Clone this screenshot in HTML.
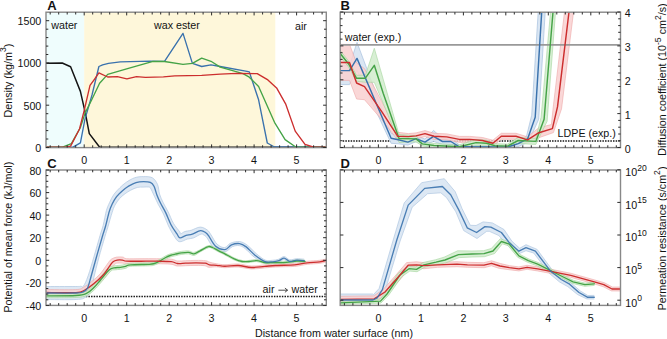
<!DOCTYPE html>
<html><head><meta charset="utf-8"><style>
html,body{margin:0;padding:0;background:#fff;overflow:hidden;}
svg{display:block;font-family:"Liberation Sans", sans-serif;}
</style></head><body>
<svg width="667" height="339" viewBox="0 0 667 339">
<defs>
<clipPath id="clipA"><rect x="46.0" y="12.2" width="280.3" height="135.4"/></clipPath>
<clipPath id="clipB"><rect x="340.2" y="12.2" width="280.3" height="135.4"/></clipPath>
<clipPath id="clipC"><rect x="46.0" y="170.0" width="280.3" height="135.4"/></clipPath>
<clipPath id="clipD"><rect x="340.2" y="170.0" width="280.3" height="135.4"/></clipPath>
</defs>
<rect x="46.0" y="12.2" width="38.2" height="135.4" fill="#effdfd"/>
<rect x="84.2" y="12.2" width="191.1" height="135.4" fill="#fef7da"/>
<g clip-path="url(#clipA)">
<polyline points="46.0,63.2 62.2,63.0 70.6,66.8 80.4,91.4 85.5,113.8 89.3,133.6 99.5,147.0 326.0,147.2" fill="none" stroke="#151515" stroke-width="1.50" stroke-linejoin="round" stroke-linecap="round" />
<polyline points="46.0,147.2 73.0,147.2 80.4,142.9 84.9,119.4 92.0,95.0 98.9,66.5 102.6,64.8 108.5,63.3 120.3,61.8 150.0,61.2 164.5,61.3 183.0,33.4 192.4,63.4 201.7,66.5 211.0,64.8 220.2,66.5 247.0,71.3 249.3,71.9 258.6,99.8 267.3,143.0 274.5,147.0 326.0,147.2" fill="none" stroke="#3a72ad" stroke-width="1.35" stroke-linejoin="round" stroke-linecap="round" />
<polyline points="46.0,147.2 62.5,147.2 71.4,143.7 80.4,127.5 85.2,112.9 91.6,100.0 99.6,83.2 107.7,74.4 127.5,68.6 153.0,61.3 164.5,61.5 183.0,64.4 192.4,63.4 201.7,58.2 211.0,61.3 220.2,67.1 232.6,70.6 243.0,73.7 249.3,77.2 258.6,86.5 274.5,122.3 285.1,139.6 295.7,147.0 326.0,147.2" fill="none" stroke="#45a347" stroke-width="1.35" stroke-linejoin="round" stroke-linecap="round" />
<polyline points="46.0,147.2 65.7,147.2 70.6,146.1 79.5,129.0 84.4,109.6 90.0,85.4 93.7,80.3 98.9,72.9 107.7,77.0 117.3,76.6 126.9,78.8 136.5,76.6 145.4,77.3 163.4,76.8 174.8,75.9 201.7,75.4 220.2,74.1 236.8,73.3 257.2,73.6 267.9,79.9 276.6,87.9 285.6,103.8 295.2,131.1 305.0,144.4 313.0,147.0 326.0,147.2" fill="none" stroke="#cc2e2e" stroke-width="1.35" stroke-linejoin="round" stroke-linecap="round" />
</g>
<g clip-path="url(#clipB)">
<line x1="342.7" y1="141.1" x2="620.5" y2="141.1" stroke="#161616" stroke-width="1.5" stroke-dasharray="1.5,1.15"/>
<polygon points="340.2,65.6 349.5,65.6 357.0,42.4 391.1,133.3 398.4,135.8 407.9,139.1 416.0,135.7 425.0,139.1 433.5,130.4 442.5,138.5 450.9,138.5 459.3,144.8 507.6,145.0 518.2,140.6 526.6,135.9 531.7,115.2 538.2,12.0 542.5,-20.0 549.5,-20.0 545.2,12.0 538.7,119.2 528.6,141.9 518.2,146.6 507.6,148.0 459.3,147.8 450.9,144.5 442.5,144.5 433.5,141.4 425.0,145.1 416.0,141.7 407.9,145.1 398.4,143.8 391.1,143.3 357.0,70.4 349.5,84.6 340.2,84.6" fill="#dae6f3"/>
<polyline points="340.2,65.6 349.5,65.6 357.0,42.4 391.1,133.3 398.4,135.8 407.9,139.1 416.0,135.7 425.0,139.1 433.5,130.4 442.5,138.5 450.9,138.5 459.3,144.8 507.6,145.0 518.2,140.6 526.6,135.9 531.7,115.2 538.2,12.0 542.5,-20.0" fill="none" stroke="#a8c2de" stroke-width="0.7"/>
<polyline points="549.5,-20.0 545.2,12.0 538.7,119.2 528.6,141.9 518.2,146.6 507.6,148.0 459.3,147.8 450.9,144.5 442.5,144.5 433.5,141.4 425.0,145.1 416.0,141.7 407.9,145.1 398.4,143.8 391.1,143.3 357.0,70.4 349.5,84.6 340.2,84.6" fill="none" stroke="#a8c2de" stroke-width="0.7"/>
<g opacity="0.85">
<polygon points="340.2,44.4 349.5,44.4 356.6,63.0 364.5,68.7 381.9,101.8 397.8,132.3 408.4,133.6 416.0,132.9 425.0,130.6 434.0,133.3 446.7,133.9 459.3,136.4 469.8,136.4 482.4,137.5 492.9,140.2 501.3,133.3 516.0,133.3 527.6,136.9 538.9,127.7 551.4,124.6 553.5,104.9 564.5,12.0 568.5,-20.0 577.5,-20.0 573.5,12.0 561.5,108.9 553.4,132.6 538.9,137.7 527.6,142.9 516.0,139.3 501.3,139.3 492.9,146.2 482.4,143.5 469.8,142.4 459.3,142.4 446.7,139.9 434.0,139.3 425.0,136.6 416.0,138.9 408.4,139.6 397.8,140.3 381.9,119.8 364.5,99.7 356.6,99.0 349.5,80.4 340.2,80.4" fill="#f9d2d2"/>
<polyline points="340.2,44.4 349.5,44.4 356.6,63.0 364.5,68.7 381.9,101.8 397.8,132.3 408.4,133.6 416.0,132.9 425.0,130.6 434.0,133.3 446.7,133.9 459.3,136.4 469.8,136.4 482.4,137.5 492.9,140.2 501.3,133.3 516.0,133.3 527.6,136.9 538.9,127.7 551.4,124.6 553.5,104.9 564.5,12.0 568.5,-20.0" fill="none" stroke="#eea4a4" stroke-width="0.7"/>
<polyline points="577.5,-20.0 573.5,12.0 561.5,108.9 553.4,132.6 538.9,137.7 527.6,142.9 516.0,139.3 501.3,139.3 492.9,146.2 482.4,143.5 469.8,142.4 459.3,142.4 446.7,139.9 434.0,139.3 425.0,136.6 416.0,138.9 408.4,139.6 397.8,140.3 381.9,119.8 364.5,99.7 356.6,99.0 349.5,80.4 340.2,80.4" fill="none" stroke="#eea4a4" stroke-width="0.7"/>
</g>
<g opacity="0.85">
<polygon points="340.2,50.5 348.6,61.0 356.6,75.3 365.4,75.2 374.3,48.3 383.2,79.2 399.0,134.5 416.0,135.9 422.3,141.9 434.1,143.5 459.3,144.8 476.1,139.6 486.6,140.2 495.0,143.7 507.6,144.1 518.2,137.5 535.8,138.4 541.1,117.3 550.5,12.0 554.5,-20.0 559.5,-20.0 555.5,12.0 547.1,121.3 535.8,144.4 518.2,143.5 507.6,148.1 495.0,147.7 486.6,146.2 476.1,145.6 459.3,147.8 434.1,147.5 422.3,145.9 416.0,141.9 399.0,142.5 383.2,103.2 374.3,82.3 365.4,82.2 356.6,81.3 348.6,67.0 340.2,56.5" fill="#d2edcd"/>
<polyline points="340.2,50.5 348.6,61.0 356.6,75.3 365.4,75.2 374.3,48.3 383.2,79.2 399.0,134.5 416.0,135.9 422.3,141.9 434.1,143.5 459.3,144.8 476.1,139.6 486.6,140.2 495.0,143.7 507.6,144.1 518.2,137.5 535.8,138.4 541.1,117.3 550.5,12.0 554.5,-20.0" fill="none" stroke="#a0d49a" stroke-width="0.7"/>
<polyline points="559.5,-20.0 555.5,12.0 547.1,121.3 535.8,144.4 518.2,143.5 507.6,148.1 495.0,147.7 486.6,146.2 476.1,145.6 459.3,147.8 434.1,147.5 422.3,145.9 416.0,141.9 399.0,142.5 383.2,103.2 374.3,82.3 365.4,82.2 356.6,81.3 348.6,67.0 340.2,56.5" fill="none" stroke="#a0d49a" stroke-width="0.7"/>
</g>
<line x1="340.2" y1="44.8" x2="620.5" y2="44.8" stroke="#999999" stroke-width="1.8"/>
<polyline points="340.2,70.6 349.5,70.6 357.0,58.4 391.1,138.3 398.4,139.8 407.9,142.1 416.0,138.7 425.0,142.1 433.5,136.4 442.5,141.5 450.9,141.5 459.3,146.8 507.6,147.0 518.2,143.6 527.6,138.9 535.2,117.2 541.7,12.0 546.0,-20.0" fill="none" stroke="#3a72ad" stroke-width="1.45" stroke-linejoin="round" stroke-linecap="round" />
<polyline points="340.2,53.5 348.6,64.0 356.6,78.3 365.4,78.2 374.3,65.3 383.2,93.2 399.0,138.5 416.0,138.9 422.3,143.9 434.1,145.5 459.3,146.8 476.1,142.6 486.6,143.2 495.0,145.7 507.6,146.1 518.2,140.5 535.8,141.4 544.1,119.3 553.0,12.0 557.0,-20.0" fill="none" stroke="#45a347" stroke-width="1.45" stroke-linejoin="round" stroke-linecap="round" />
<polyline points="340.2,62.4 349.5,62.4 356.6,83.0 364.5,86.7 381.9,111.8 397.8,136.3 408.4,136.6 416.0,135.9 425.0,133.6 434.0,136.3 446.7,136.9 459.3,139.4 469.8,139.4 482.4,140.5 492.9,143.2 501.3,136.3 516.0,136.3 527.6,139.9 538.9,132.7 552.4,128.6 557.5,106.9 569.0,12.0 573.0,-20.0" fill="none" stroke="#cc2e2e" stroke-width="1.45" stroke-linejoin="round" stroke-linecap="round" />
</g>
<g clip-path="url(#clipC)">
<line x1="46" y1="296.4" x2="326.3" y2="296.4" stroke="#161616" stroke-width="1.5" stroke-dasharray="1.5,1.15"/>
<g opacity="0.9">
<path d="M44.0,286.5 C49.3,286.5 69.7,286.5 75.8,286.5 C81.9,286.5 79.5,286.3 80.8,286.3 C82.1,286.2 82.3,287.8 83.5,286.1 C84.7,284.4 86.4,280.8 88.1,275.9 C89.9,270.9 92.0,263.3 94.0,256.5 C96.0,249.8 98.6,240.5 100.1,235.3 C101.6,230.1 102.1,229.5 103.2,225.3 C104.2,221.2 105.4,214.3 106.4,210.5 C107.5,206.8 108.3,205.4 109.5,202.7 C110.7,200.0 112.1,197.0 113.8,194.5 C115.6,192.0 117.8,189.7 119.9,187.7 C121.9,185.7 123.6,184.1 126.1,182.4 C128.5,180.8 131.6,178.8 134.5,177.8 C137.4,176.8 140.6,176.6 143.5,176.6 C146.5,176.6 150.0,176.5 152.4,177.8 C154.7,179.2 156.3,181.7 157.5,184.4 C158.8,187.2 158.7,191.2 159.6,194.2 C160.5,197.1 161.5,199.2 162.9,202.1 C164.3,205.1 166.4,208.2 168.1,211.8 C169.9,215.3 171.5,220.1 173.5,223.4 C175.4,226.7 178.5,230.0 179.7,231.7 C180.9,233.5 179.7,233.9 180.6,233.9 C181.5,233.8 183.2,232.1 185.0,231.5 C186.7,230.9 188.5,231.0 191.1,230.3 C193.6,229.6 197.5,227.1 200.2,227.1 C203.0,227.1 205.7,228.9 207.5,230.2 C209.3,231.5 209.4,232.5 211.0,234.8 C212.6,237.2 214.9,242.2 217.2,244.3 C219.5,246.4 222.5,247.8 224.7,247.6 C227.0,247.4 228.2,244.0 230.7,243.1 C233.2,242.1 237.0,241.2 239.8,241.6 C242.5,242.0 244.6,243.2 247.4,245.3 C250.2,247.4 253.7,251.5 256.6,253.9 C259.6,256.4 262.6,259.0 265.2,260.1 C267.9,261.2 270.3,260.4 272.5,260.3 C274.7,260.2 276.5,259.9 278.4,259.3 C280.4,258.7 282.3,256.5 284.2,256.6 C286.1,256.7 287.6,259.5 289.6,259.8 C291.7,260.2 294.2,258.8 296.6,258.7 C299.1,258.6 302.9,259.1 304.2,259.2 L304.0,262.2 C302.8,262.1 299.2,261.6 296.8,261.7 C294.3,261.8 291.3,263.1 289.2,262.8 C287.0,262.4 285.6,259.7 284.0,259.6 C282.4,259.5 281.2,261.5 279.4,262.1 C277.5,262.7 275.2,263.2 272.7,263.3 C270.2,263.4 267.3,263.9 264.2,262.9 C261.1,261.9 257.4,259.5 254.2,257.1 C251.0,254.7 247.5,250.4 245.0,248.5 C242.5,246.6 241.4,245.9 239.2,245.6 C237.1,245.3 234.6,245.7 232.3,246.7 C229.9,247.8 228.1,251.4 225.1,251.6 C222.0,251.8 217.0,250.4 214.0,248.1 C211.0,245.8 208.6,239.9 207.0,237.8 C205.3,235.6 205.1,235.8 204.1,235.2 C203.1,234.6 202.7,233.6 201.0,234.1 C199.2,234.5 195.8,237.1 193.5,237.9 C191.2,238.7 189.6,238.5 187.2,239.1 C184.9,239.8 181.4,242.3 179.2,241.7 C177.0,241.2 175.7,238.3 173.9,235.7 C172.1,233.0 170.3,229.6 168.5,226.0 C166.8,222.4 165.2,217.6 163.5,214.0 C161.8,210.4 159.8,207.4 158.3,204.5 C156.8,201.5 155.7,198.9 154.4,196.2 C153.1,193.5 151.5,189.7 150.5,188.2 C149.4,186.6 149.4,187.1 148.2,187.0 C147.1,186.8 145.5,187.0 143.7,187.1 C141.9,187.2 139.6,186.9 137.5,187.4 C135.3,187.9 132.8,189.1 130.7,190.2 C128.7,191.2 127.0,192.3 125.1,193.7 C123.2,195.1 121.1,196.8 119.4,198.7 C117.7,200.7 116.1,203.1 114.9,205.3 C113.7,207.6 113.3,208.7 112.2,212.3 C111.0,215.8 109.2,222.6 108.0,226.7 C106.8,230.7 106.4,231.5 104.9,236.7 C103.4,241.9 100.6,251.1 98.8,257.9 C97.0,264.7 95.1,272.1 93.9,277.5 C92.7,282.9 92.9,287.0 91.5,290.3 C90.1,293.6 88.0,295.8 85.4,297.3 C82.9,298.9 83.1,299.1 76.2,299.5 C69.3,299.9 49.4,299.5 44.0,299.5 Z" fill="#dae6f3"/>
<path d="M44.0,286.5 C49.3,286.5 69.7,286.5 75.8,286.5 C81.9,286.5 79.5,286.3 80.8,286.3 C82.1,286.2 82.3,287.8 83.5,286.1 C84.7,284.4 86.4,280.8 88.1,275.9 C89.9,270.9 92.0,263.3 94.0,256.5 C96.0,249.8 98.6,240.5 100.1,235.3 C101.6,230.1 102.1,229.5 103.2,225.3 C104.2,221.2 105.4,214.3 106.4,210.5 C107.5,206.8 108.3,205.4 109.5,202.7 C110.7,200.0 112.1,197.0 113.8,194.5 C115.6,192.0 117.8,189.7 119.9,187.7 C121.9,185.7 123.6,184.1 126.1,182.4 C128.5,180.8 131.6,178.8 134.5,177.8 C137.4,176.8 140.6,176.6 143.5,176.6 C146.5,176.6 150.0,176.5 152.4,177.8 C154.7,179.2 156.3,181.7 157.5,184.4 C158.8,187.2 158.7,191.2 159.6,194.2 C160.5,197.1 161.5,199.2 162.9,202.1 C164.3,205.1 166.4,208.2 168.1,211.8 C169.9,215.3 171.5,220.1 173.5,223.4 C175.4,226.7 178.5,230.0 179.7,231.7 C180.9,233.5 179.7,233.9 180.6,233.9 C181.5,233.8 183.2,232.1 185.0,231.5 C186.7,230.9 188.5,231.0 191.1,230.3 C193.6,229.6 197.5,227.1 200.2,227.1 C203.0,227.1 205.7,228.9 207.5,230.2 C209.3,231.5 209.4,232.5 211.0,234.8 C212.6,237.2 214.9,242.2 217.2,244.3 C219.5,246.4 222.5,247.8 224.7,247.6 C227.0,247.4 228.2,244.0 230.7,243.1 C233.2,242.1 237.0,241.2 239.8,241.6 C242.5,242.0 244.6,243.2 247.4,245.3 C250.2,247.4 253.7,251.5 256.6,253.9 C259.6,256.4 262.6,259.0 265.2,260.1 C267.9,261.2 270.3,260.4 272.5,260.3 C274.7,260.2 276.5,259.9 278.4,259.3 C280.4,258.7 282.3,256.5 284.2,256.6 C286.1,256.7 287.6,259.5 289.6,259.8 C291.7,260.2 294.2,258.8 296.6,258.7 C299.1,258.6 302.9,259.1 304.2,259.2" fill="none" stroke="#a8c2de" stroke-width="0.7"/>
<path d="M304.0,262.2 C302.8,262.1 299.2,261.6 296.8,261.7 C294.3,261.8 291.3,263.1 289.2,262.8 C287.0,262.4 285.6,259.7 284.0,259.6 C282.4,259.5 281.2,261.5 279.4,262.1 C277.5,262.7 275.2,263.2 272.7,263.3 C270.2,263.4 267.3,263.9 264.2,262.9 C261.1,261.9 257.4,259.5 254.2,257.1 C251.0,254.7 247.5,250.4 245.0,248.5 C242.5,246.6 241.4,245.9 239.2,245.6 C237.1,245.3 234.6,245.7 232.3,246.7 C229.9,247.8 228.1,251.4 225.1,251.6 C222.0,251.8 217.0,250.4 214.0,248.1 C211.0,245.8 208.6,239.9 207.0,237.8 C205.3,235.6 205.1,235.8 204.1,235.2 C203.1,234.6 202.7,233.6 201.0,234.1 C199.2,234.5 195.8,237.1 193.5,237.9 C191.2,238.7 189.6,238.5 187.2,239.1 C184.9,239.8 181.4,242.3 179.2,241.7 C177.0,241.2 175.7,238.3 173.9,235.7 C172.1,233.0 170.3,229.6 168.5,226.0 C166.8,222.4 165.2,217.6 163.5,214.0 C161.8,210.4 159.8,207.4 158.3,204.5 C156.8,201.5 155.7,198.9 154.4,196.2 C153.1,193.5 151.5,189.7 150.5,188.2 C149.4,186.6 149.4,187.1 148.2,187.0 C147.1,186.8 145.5,187.0 143.7,187.1 C141.9,187.2 139.6,186.9 137.5,187.4 C135.3,187.9 132.8,189.1 130.7,190.2 C128.7,191.2 127.0,192.3 125.1,193.7 C123.2,195.1 121.1,196.8 119.4,198.7 C117.7,200.7 116.1,203.1 114.9,205.3 C113.7,207.6 113.3,208.7 112.2,212.3 C111.0,215.8 109.2,222.6 108.0,226.7 C106.8,230.7 106.4,231.5 104.9,236.7 C103.4,241.9 100.6,251.1 98.8,257.9 C97.0,264.7 95.1,272.1 93.9,277.5 C92.7,282.9 92.9,287.0 91.5,290.3 C90.1,293.6 88.0,295.8 85.4,297.3 C82.9,298.9 83.1,299.1 76.2,299.5 C69.3,299.9 49.4,299.5 44.0,299.5" fill="none" stroke="#a8c2de" stroke-width="0.7"/>
</g>
<g opacity="0.85">
<path d="M44.0,289.5 C49.3,289.5 69.2,290.0 75.8,289.6 C82.4,289.2 80.8,288.7 83.5,287.3 C86.1,286.0 89.0,283.7 91.8,281.5 C94.6,279.2 97.7,276.7 100.3,273.8 C102.8,270.9 105.4,266.7 107.2,264.3 C109.0,261.9 109.7,260.5 111.2,259.3 C112.8,258.2 114.8,257.5 116.7,257.1 C118.6,256.8 121.1,256.9 122.8,257.1 C124.4,257.4 123.6,258.4 126.6,258.7 C129.7,259.0 136.0,258.7 141.0,258.7 C146.0,258.7 151.4,258.6 156.4,258.7 C161.5,258.8 167.9,258.8 171.5,259.2 C175.0,259.6 175.3,260.8 177.7,261.0 C180.0,261.3 182.5,260.8 185.5,260.7 C188.6,260.6 192.7,260.4 196.0,260.4 C199.3,260.4 203.2,260.4 205.6,260.7 C207.9,261.0 208.0,261.8 209.9,262.3 C211.7,262.9 214.2,263.4 216.7,263.8 C219.2,264.2 221.3,264.7 224.9,264.7 C228.5,264.7 233.8,263.8 238.3,264.0 C242.7,264.2 247.2,265.9 251.6,266.0 C255.9,266.2 260.6,265.2 264.6,264.9 C268.6,264.6 270.6,264.3 275.6,264.0 C280.6,263.8 289.2,263.9 294.5,263.4 C299.7,263.0 302.8,261.8 307.0,261.3 C311.2,260.8 316.2,260.8 319.6,260.3 C323.0,259.9 326.3,258.8 327.7,258.5 L328.3,261.5 C326.9,261.8 323.5,262.8 320.0,263.3 C316.5,263.8 311.6,263.8 307.4,264.3 C303.2,264.8 300.0,265.9 294.7,266.4 C289.5,266.8 280.8,266.7 275.8,267.0 C270.8,267.2 268.9,267.6 264.8,267.9 C260.8,268.2 255.9,269.1 251.4,269.0 C247.0,268.8 242.6,267.2 238.1,267.0 C233.7,266.8 228.5,267.7 224.9,267.7 C221.3,267.7 219.1,266.9 216.5,266.8 C213.8,266.7 210.9,267.4 208.9,267.3 C207.0,267.1 207.0,266.0 204.8,265.7 C202.7,265.4 199.2,265.4 196.0,265.4 C192.8,265.4 188.8,265.6 185.7,265.7 C182.5,265.8 179.6,266.2 177.1,266.0 C174.7,265.7 174.4,264.6 170.9,264.2 C167.5,263.8 161.3,263.8 156.4,263.7 C151.4,263.6 146.0,263.7 141.0,263.7 C136.0,263.7 129.5,263.8 126.4,263.7 C123.2,263.6 123.5,263.2 122.0,263.1 C120.6,263.0 118.9,262.9 117.7,263.1 C116.5,263.2 115.9,263.2 115.0,264.1 C114.0,264.9 113.7,265.6 112.0,267.9 C110.3,270.2 107.5,274.8 104.7,277.8 C102.0,280.8 98.7,283.7 95.6,286.1 C92.5,288.6 89.4,291.1 86.1,292.7 C82.9,294.3 83.2,295.1 76.2,295.6 C69.2,296.1 49.4,295.5 44.0,295.5 Z" fill="#f9d2d2"/>
<path d="M44.0,289.5 C49.3,289.5 69.2,290.0 75.8,289.6 C82.4,289.2 80.8,288.7 83.5,287.3 C86.1,286.0 89.0,283.7 91.8,281.5 C94.6,279.2 97.7,276.7 100.3,273.8 C102.8,270.9 105.4,266.7 107.2,264.3 C109.0,261.9 109.7,260.5 111.2,259.3 C112.8,258.2 114.8,257.5 116.7,257.1 C118.6,256.8 121.1,256.9 122.8,257.1 C124.4,257.4 123.6,258.4 126.6,258.7 C129.7,259.0 136.0,258.7 141.0,258.7 C146.0,258.7 151.4,258.6 156.4,258.7 C161.5,258.8 167.9,258.8 171.5,259.2 C175.0,259.6 175.3,260.8 177.7,261.0 C180.0,261.3 182.5,260.8 185.5,260.7 C188.6,260.6 192.7,260.4 196.0,260.4 C199.3,260.4 203.2,260.4 205.6,260.7 C207.9,261.0 208.0,261.8 209.9,262.3 C211.7,262.9 214.2,263.4 216.7,263.8 C219.2,264.2 221.3,264.7 224.9,264.7 C228.5,264.7 233.8,263.8 238.3,264.0 C242.7,264.2 247.2,265.9 251.6,266.0 C255.9,266.2 260.6,265.2 264.6,264.9 C268.6,264.6 270.6,264.3 275.6,264.0 C280.6,263.8 289.2,263.9 294.5,263.4 C299.7,263.0 302.8,261.8 307.0,261.3 C311.2,260.8 316.2,260.8 319.6,260.3 C323.0,259.9 326.3,258.8 327.7,258.5" fill="none" stroke="#eea4a4" stroke-width="0.7"/>
<path d="M328.3,261.5 C326.9,261.8 323.5,262.8 320.0,263.3 C316.5,263.8 311.6,263.8 307.4,264.3 C303.2,264.8 300.0,265.9 294.7,266.4 C289.5,266.8 280.8,266.7 275.8,267.0 C270.8,267.2 268.9,267.6 264.8,267.9 C260.8,268.2 255.9,269.1 251.4,269.0 C247.0,268.8 242.6,267.2 238.1,267.0 C233.7,266.8 228.5,267.7 224.9,267.7 C221.3,267.7 219.1,266.9 216.5,266.8 C213.8,266.7 210.9,267.4 208.9,267.3 C207.0,267.1 207.0,266.0 204.8,265.7 C202.7,265.4 199.2,265.4 196.0,265.4 C192.8,265.4 188.8,265.6 185.7,265.7 C182.5,265.8 179.6,266.2 177.1,266.0 C174.7,265.7 174.4,264.6 170.9,264.2 C167.5,263.8 161.3,263.8 156.4,263.7 C151.4,263.6 146.0,263.7 141.0,263.7 C136.0,263.7 129.5,263.8 126.4,263.7 C123.2,263.6 123.5,263.2 122.0,263.1 C120.6,263.0 118.9,262.9 117.7,263.1 C116.5,263.2 115.9,263.2 115.0,264.1 C114.0,264.9 113.7,265.6 112.0,267.9 C110.3,270.2 107.5,274.8 104.7,277.8 C102.0,280.8 98.7,283.7 95.6,286.1 C92.5,288.6 89.4,291.1 86.1,292.7 C82.9,294.3 83.2,295.1 76.2,295.6 C69.2,296.1 49.4,295.5 44.0,295.5" fill="none" stroke="#eea4a4" stroke-width="0.7"/>
</g>
<g opacity="0.85">
<path d="M44.0,293.8 C49.3,293.8 68.9,293.9 75.9,293.5 C82.8,293.1 82.8,292.9 85.7,291.6 C88.5,290.3 90.8,287.7 93.0,285.6 C95.2,283.4 96.5,281.6 99.0,278.7 C101.5,275.8 105.8,270.2 108.3,268.1 C110.7,266.0 111.7,266.4 113.7,265.9 C115.6,265.5 118.1,265.6 120.0,265.3 C121.9,265.1 123.3,264.7 125.0,264.4 C126.8,264.0 126.5,263.6 130.5,263.3 C134.5,263.0 145.2,263.0 149.1,262.8 C153.0,262.6 152.1,262.7 153.9,262.1 C155.7,261.5 158.1,260.3 159.9,259.3 C161.7,258.3 163.4,257.0 165.0,256.2 C166.6,255.3 168.1,254.7 169.7,254.1 C171.4,253.5 173.0,253.2 175.0,252.7 C176.9,252.3 179.0,251.7 181.3,251.4 C183.6,251.1 186.8,250.7 188.8,250.9 C190.9,251.1 191.9,252.6 193.7,252.4 C195.5,252.2 197.3,251.0 199.7,249.9 C202.0,248.8 205.8,246.3 208.0,245.7 C210.2,245.2 211.0,245.9 212.9,246.6 C214.7,247.3 217.1,248.9 219.2,249.9 C221.2,251.0 222.8,251.6 225.4,252.9 C227.9,254.3 231.8,256.7 234.6,258.0 C237.4,259.3 240.0,260.1 242.4,260.5 C244.7,260.9 246.3,260.7 248.7,260.5 C251.2,260.3 254.2,259.4 256.9,259.6 C259.6,259.8 262.6,261.3 264.8,261.6 C267.1,261.9 266.9,261.7 270.5,261.6 C274.0,261.5 281.8,261.6 286.1,261.3 C290.5,261.0 293.5,260.2 296.6,260.0 C299.8,259.8 303.7,260.3 305.1,260.3 L305.1,262.3 C303.7,262.2 299.9,261.8 296.8,262.0 C293.6,262.2 290.6,263.0 286.3,263.3 C281.9,263.6 274.1,263.6 270.5,263.6 C266.9,263.6 266.9,263.9 264.6,263.6 C262.3,263.3 259.3,261.8 256.7,261.6 C254.1,261.4 251.3,262.4 248.9,262.5 C246.4,262.6 244.5,262.9 242.0,262.5 C239.5,262.0 236.7,261.1 233.8,259.8 C230.9,258.5 227.0,256.0 224.4,254.7 C221.8,253.3 220.3,252.7 218.2,251.7 C216.2,250.6 213.7,249.1 212.1,248.4 C210.5,247.8 210.5,247.1 208.6,247.7 C206.6,248.2 203.0,250.4 200.5,251.7 C198.1,253.0 196.1,255.0 194.1,255.4 C192.1,255.8 190.6,254.1 188.6,253.9 C186.5,253.7 183.9,254.1 181.7,254.4 C179.5,254.7 177.5,255.2 175.6,255.7 C173.8,256.1 172.2,256.4 170.7,256.9 C169.1,257.4 168.0,258.0 166.4,258.8 C164.8,259.7 163.2,260.9 161.3,261.9 C159.4,262.9 156.9,264.3 154.9,264.9 C152.9,265.6 153.3,265.6 149.3,265.8 C145.3,266.0 134.6,265.9 130.7,266.3 C126.8,266.7 127.7,267.7 126.0,268.2 C124.3,268.7 122.5,269.0 120.6,269.3 C118.7,269.5 116.1,269.6 114.5,269.9 C112.9,270.2 113.0,269.2 110.9,271.1 C108.8,273.0 104.5,278.4 102.0,281.3 C99.5,284.2 98.2,286.1 95.8,288.4 C93.3,290.8 90.6,293.7 87.3,295.2 C84.1,296.7 83.3,297.1 76.1,297.5 C68.9,297.9 49.4,297.7 44.0,297.8 Z" fill="#d2edcd"/>
<path d="M44.0,293.8 C49.3,293.8 68.9,293.9 75.9,293.5 C82.8,293.1 82.8,292.9 85.7,291.6 C88.5,290.3 90.8,287.7 93.0,285.6 C95.2,283.4 96.5,281.6 99.0,278.7 C101.5,275.8 105.8,270.2 108.3,268.1 C110.7,266.0 111.7,266.4 113.7,265.9 C115.6,265.5 118.1,265.6 120.0,265.3 C121.9,265.1 123.3,264.7 125.0,264.4 C126.8,264.0 126.5,263.6 130.5,263.3 C134.5,263.0 145.2,263.0 149.1,262.8 C153.0,262.6 152.1,262.7 153.9,262.1 C155.7,261.5 158.1,260.3 159.9,259.3 C161.7,258.3 163.4,257.0 165.0,256.2 C166.6,255.3 168.1,254.7 169.7,254.1 C171.4,253.5 173.0,253.2 175.0,252.7 C176.9,252.3 179.0,251.7 181.3,251.4 C183.6,251.1 186.8,250.7 188.8,250.9 C190.9,251.1 191.9,252.6 193.7,252.4 C195.5,252.2 197.3,251.0 199.7,249.9 C202.0,248.8 205.8,246.3 208.0,245.7 C210.2,245.2 211.0,245.9 212.9,246.6 C214.7,247.3 217.1,248.9 219.2,249.9 C221.2,251.0 222.8,251.6 225.4,252.9 C227.9,254.3 231.8,256.7 234.6,258.0 C237.4,259.3 240.0,260.1 242.4,260.5 C244.7,260.9 246.3,260.7 248.7,260.5 C251.2,260.3 254.2,259.4 256.9,259.6 C259.6,259.8 262.6,261.3 264.8,261.6 C267.1,261.9 266.9,261.7 270.5,261.6 C274.0,261.5 281.8,261.6 286.1,261.3 C290.5,261.0 293.5,260.2 296.6,260.0 C299.8,259.8 303.7,260.3 305.1,260.3" fill="none" stroke="#a0d49a" stroke-width="0.7"/>
<path d="M305.1,262.3 C303.7,262.2 299.9,261.8 296.8,262.0 C293.6,262.2 290.6,263.0 286.3,263.3 C281.9,263.6 274.1,263.6 270.5,263.6 C266.9,263.6 266.9,263.9 264.6,263.6 C262.3,263.3 259.3,261.8 256.7,261.6 C254.1,261.4 251.3,262.4 248.9,262.5 C246.4,262.6 244.5,262.9 242.0,262.5 C239.5,262.0 236.7,261.1 233.8,259.8 C230.9,258.5 227.0,256.0 224.4,254.7 C221.8,253.3 220.3,252.7 218.2,251.7 C216.2,250.6 213.7,249.1 212.1,248.4 C210.5,247.8 210.5,247.1 208.6,247.7 C206.6,248.2 203.0,250.4 200.5,251.7 C198.1,253.0 196.1,255.0 194.1,255.4 C192.1,255.8 190.6,254.1 188.6,253.9 C186.5,253.7 183.9,254.1 181.7,254.4 C179.5,254.7 177.5,255.2 175.6,255.7 C173.8,256.1 172.2,256.4 170.7,256.9 C169.1,257.4 168.0,258.0 166.4,258.8 C164.8,259.7 163.2,260.9 161.3,261.9 C159.4,262.9 156.9,264.3 154.9,264.9 C152.9,265.6 153.3,265.6 149.3,265.8 C145.3,266.0 134.6,265.9 130.7,266.3 C126.8,266.7 127.7,267.7 126.0,268.2 C124.3,268.7 122.5,269.0 120.6,269.3 C118.7,269.5 116.1,269.6 114.5,269.9 C112.9,270.2 113.0,269.2 110.9,271.1 C108.8,273.0 104.5,278.4 102.0,281.3 C99.5,284.2 98.2,286.1 95.8,288.4 C93.3,290.8 90.6,293.7 87.3,295.2 C84.1,296.7 83.3,297.1 76.1,297.5 C68.9,297.9 49.4,297.7 44.0,297.8" fill="none" stroke="#a0d49a" stroke-width="0.7"/>
</g>
<path d="M44.0,295.8 C49.3,295.8 68.9,295.9 76.0,295.5 C83.1,295.1 83.4,294.8 86.5,293.4 C89.6,292.0 92.1,289.2 94.4,287.0 C96.7,284.8 98.0,282.9 100.5,280.0 C103.0,277.1 107.3,271.6 109.6,269.6 C111.9,267.6 112.3,268.3 114.1,267.9 C115.9,267.5 118.4,267.6 120.3,267.3 C122.2,267.0 123.8,266.7 125.5,266.3 C127.2,265.9 126.6,265.1 130.6,264.8 C134.5,264.5 145.2,264.5 149.2,264.3 C153.2,264.1 152.5,264.1 154.4,263.5 C156.3,262.9 158.7,261.6 160.6,260.6 C162.5,259.6 164.1,258.4 165.7,257.5 C167.3,256.6 168.6,256.1 170.2,255.5 C171.8,254.9 173.4,254.6 175.3,254.2 C177.2,253.8 179.3,253.2 181.5,252.9 C183.7,252.6 186.6,252.2 188.7,252.4 C190.8,252.6 192.0,254.2 193.9,253.9 C195.8,253.6 197.7,252.0 200.1,250.8 C202.5,249.6 206.2,247.2 208.3,246.7 C210.4,246.1 210.8,246.8 212.5,247.5 C214.2,248.2 216.6,249.8 218.7,250.8 C220.8,251.9 222.3,252.5 224.9,253.8 C227.5,255.2 231.3,257.6 234.2,258.9 C237.1,260.2 239.8,261.1 242.2,261.5 C244.6,261.9 246.4,261.6 248.8,261.5 C251.2,261.4 254.2,260.4 256.8,260.6 C259.4,260.8 262.4,262.3 264.7,262.6 C267.0,262.9 266.9,262.7 270.5,262.6 C274.1,262.6 281.8,262.6 286.2,262.3 C290.6,262.0 293.5,261.2 296.7,261.0 C299.9,260.8 303.7,261.2 305.1,261.3" fill="none" stroke="#45a347" stroke-width="1.35" stroke-linejoin="round" stroke-linecap="round"/>
<path d="M44.0,292.5 C49.3,292.5 69.2,293.0 76.0,292.6 C82.8,292.2 81.8,291.5 84.8,290.0 C87.8,288.5 90.8,286.2 93.7,283.8 C96.7,281.4 99.8,278.8 102.5,275.8 C105.2,272.9 107.8,268.5 109.6,266.1 C111.4,263.8 111.8,262.7 113.1,261.7 C114.4,260.7 115.7,260.4 117.2,260.1 C118.8,259.8 120.9,259.9 122.4,260.1 C124.0,260.3 123.4,261.0 126.5,261.2 C129.6,261.4 136.0,261.2 141.0,261.2 C146.0,261.2 151.4,261.1 156.4,261.2 C161.4,261.3 167.7,261.3 171.2,261.7 C174.7,262.1 175.0,263.2 177.4,263.5 C179.8,263.8 182.5,263.3 185.6,263.2 C188.7,263.1 192.7,262.9 196.0,262.9 C199.3,262.9 203.0,262.9 205.2,263.2 C207.4,263.5 207.5,264.4 209.4,264.8 C211.3,265.2 214.0,265.1 216.6,265.3 C219.2,265.5 221.3,266.2 224.9,266.2 C228.5,266.2 233.8,265.3 238.2,265.5 C242.6,265.7 247.1,267.4 251.5,267.5 C255.9,267.6 260.7,266.7 264.7,266.4 C268.7,266.1 270.7,265.8 275.7,265.5 C280.7,265.2 289.4,265.3 294.6,264.9 C299.9,264.4 303.0,263.3 307.2,262.8 C311.4,262.3 316.3,262.3 319.8,261.8 C323.3,261.3 326.6,260.3 328.0,260.0" fill="none" stroke="#cc2e2e" stroke-width="1.35" stroke-linejoin="round" stroke-linecap="round"/>
<g opacity="0.9">
<path d="M44.0,293.0 C49.3,293.0 69.5,293.2 76.0,293.0 C82.5,292.8 81.2,292.6 83.1,291.8 C85.0,291.0 86.2,290.7 87.5,288.2 C88.8,285.7 89.5,281.9 91.0,276.7 C92.5,271.5 94.5,264.0 96.4,257.2 C98.3,250.4 101.0,241.2 102.5,236.0 C104.0,230.8 104.5,230.1 105.6,226.0 C106.7,221.9 108.2,215.1 109.3,211.4 C110.4,207.7 111.0,206.5 112.2,204.0 C113.4,201.5 114.9,198.8 116.6,196.6 C118.3,194.4 120.5,192.4 122.5,190.7 C124.5,189.0 126.2,187.7 128.4,186.3 C130.7,185.0 133.5,183.4 136.0,182.6 C138.5,181.8 141.2,181.6 143.6,181.6 C146.0,181.6 148.6,181.6 150.3,182.4 C152.0,183.2 152.9,184.2 154.0,186.3 C155.1,188.4 155.9,192.4 157.0,195.2 C158.1,198.0 159.1,200.4 160.6,203.3 C162.1,206.2 164.1,209.3 165.8,212.9 C167.5,216.5 169.2,221.2 171.0,224.7 C172.8,228.2 175.3,231.5 176.8,233.7 C178.3,235.9 178.4,237.5 179.9,237.8 C181.4,238.1 184.0,235.9 186.1,235.3 C188.2,234.7 189.9,234.9 192.3,234.1 C194.7,233.3 198.3,230.8 200.6,230.6 C202.8,230.4 204.4,231.8 205.8,232.7 C207.2,233.6 207.4,234.1 209.0,236.3 C210.6,238.6 212.9,244.0 215.6,246.2 C218.2,248.4 222.2,249.8 224.9,249.6 C227.6,249.4 229.1,245.9 231.5,244.9 C233.9,243.9 237.1,243.3 239.5,243.6 C241.9,243.9 243.5,244.9 246.2,246.9 C248.8,248.9 252.3,253.1 255.4,255.5 C258.5,257.9 261.8,260.4 264.7,261.5 C267.6,262.6 270.2,261.9 272.6,261.8 C275.0,261.7 277.0,261.3 278.9,260.7 C280.8,260.1 282.4,258.0 284.1,258.1 C285.9,258.2 287.3,261.0 289.4,261.3 C291.5,261.6 294.2,260.3 296.7,260.2 C299.1,260.1 302.9,260.6 304.1,260.7" fill="none" stroke="#3a72ad" stroke-width="1.35" stroke-linejoin="round" stroke-linecap="round"/>
</g>
</g>
<g clip-path="url(#clipD)">
<g opacity="0.9">
<polygon points="340.2,294.0 372.7,294.0 373.5,294.5 379.1,288.5 393.5,239.0 404.2,203.0 421.6,182.7 444.3,178.7 455.2,191.6 462.0,208.5 470.3,225.3 476.1,225.5 483.1,221.9 492.3,222.9 504.0,229.5 511.8,241.1 519.7,248.3 526.0,244.7 537.1,249.4 552.2,269.9 562.4,277.8 570.8,282.6 580.2,290.9 587.8,295.5 594.3,295.4 594.3,299.0 586.8,298.9 577.5,294.5 567.8,286.6 559.6,282.0 548.9,273.0 533.7,253.0 526.0,250.7 518.1,254.1 507.4,245.1 498.8,235.5 489.3,231.3 486.7,231.3 477.0,238.5 463.7,230.6 455.8,211.7 446.6,197.7 440.8,192.8 427.6,193.7 412.2,207.2 400.1,241.0 385.2,290.6 379.1,299.6 373.1,302.0 340.2,302.0" fill="#dae6f3"/>
<polyline points="340.2,294.0 372.7,294.0 373.5,294.5 379.1,288.5 393.5,239.0 404.2,203.0 421.6,182.7 444.3,178.7 455.2,191.6 462.0,208.5 470.3,225.3 476.1,225.5 483.1,221.9 492.3,222.9 504.0,229.5 511.8,241.1 519.7,248.3 526.0,244.7 537.1,249.4 552.2,269.9 562.4,277.8 570.8,282.6 580.2,290.9 587.8,295.5 594.3,295.4" fill="none" stroke="#a8c2de" stroke-width="0.7"/>
<polyline points="594.3,299.0 586.8,298.9 577.5,294.5 567.8,286.6 559.6,282.0 548.9,273.0 533.7,253.0 526.0,250.7 518.1,254.1 507.4,245.1 498.8,235.5 489.3,231.3 486.7,231.3 477.0,238.5 463.7,230.6 455.8,211.7 446.6,197.7 440.8,192.8 427.6,193.7 412.2,207.2 400.1,241.0 385.2,290.6 379.1,299.6 373.1,302.0 340.2,302.0" fill="none" stroke="#a8c2de" stroke-width="0.7"/>
</g>
<g opacity="0.85">
<polygon points="340.2,296.3 373.7,295.9 383.0,289.8 397.7,273.0 406.6,262.6 416.6,261.8 424.0,262.7 437.4,262.3 457.0,261.7 467.6,262.3 483.8,262.7 491.6,260.8 500.6,263.6 509.7,265.7 518.9,266.9 527.1,265.3 538.0,266.9 551.1,269.3 571.3,273.4 594.8,280.0 604.5,282.8 612.5,287.1 622.0,287.0 622.0,291.0 611.5,290.9 603.1,286.6 593.8,283.8 570.3,277.2 550.3,273.3 537.4,270.9 527.1,269.3 518.9,270.9 509.1,269.7 499.4,268.4 491.4,265.8 484.2,267.7 467.4,267.3 457.0,266.7 437.6,267.3 424.0,268.7 416.4,267.8 409.8,267.8 402.3,277.0 387.0,294.2 374.7,301.9 340.2,301.3" fill="#f9d2d2"/>
<polyline points="340.2,296.3 373.7,295.9 383.0,289.8 397.7,273.0 406.6,262.6 416.6,261.8 424.0,262.7 437.4,262.3 457.0,261.7 467.6,262.3 483.8,262.7 491.6,260.8 500.6,263.6 509.7,265.7 518.9,266.9 527.1,265.3 538.0,266.9 551.1,269.3 571.3,273.4 594.8,280.0 604.5,282.8 612.5,287.1 622.0,287.0" fill="none" stroke="#eea4a4" stroke-width="0.7"/>
<polyline points="622.0,291.0 611.5,290.9 603.1,286.6 593.8,283.8 570.3,277.2 550.3,273.3 537.4,270.9 527.1,269.3 518.9,270.9 509.1,269.7 499.4,268.4 491.4,265.8 484.2,267.7 467.4,267.3 457.0,266.7 437.6,267.3 424.0,268.7 416.4,267.8 409.8,267.8 402.3,277.0 387.0,294.2 374.7,301.9 340.2,301.3" fill="none" stroke="#eea4a4" stroke-width="0.7"/>
</g>
<g opacity="0.85">
<polygon points="340.1,301.4 380.1,299.1 385.4,292.8 398.1,273.4 408.2,266.3 415.9,266.9 423.1,262.5 435.4,259.8 444.1,257.2 457.6,250.8 471.9,251.0 483.6,250.7 491.3,248.5 500.3,238.7 510.7,242.7 520.1,254.5 529.0,259.1 538.4,262.6 551.4,269.2 562.0,274.6 573.7,280.4 585.0,283.1 594.1,282.2 594.5,285.4 584.8,286.3 572.5,283.4 560.6,277.4 550.0,272.0 537.0,265.8 527.6,262.3 517.7,257.3 508.1,245.7 502.4,243.8 494.7,253.5 484.4,256.7 472.1,257.0 459.2,257.6 445.9,262.8 436.6,264.6 424.9,267.1 417.1,271.7 409.8,271.1 401.9,276.6 388.6,295.2 380.9,303.1 340.3,304.4" fill="#d2edcd"/>
<polyline points="340.1,301.4 380.1,299.1 385.4,292.8 398.1,273.4 408.2,266.3 415.9,266.9 423.1,262.5 435.4,259.8 444.1,257.2 457.6,250.8 471.9,251.0 483.6,250.7 491.3,248.5 500.3,238.7 510.7,242.7 520.1,254.5 529.0,259.1 538.4,262.6 551.4,269.2 562.0,274.6 573.7,280.4 585.0,283.1 594.1,282.2" fill="none" stroke="#a0d49a" stroke-width="0.7"/>
<polyline points="594.5,285.4 584.8,286.3 572.5,283.4 560.6,277.4 550.0,272.0 537.0,265.8 527.6,262.3 517.7,257.3 508.1,245.7 502.4,243.8 494.7,253.5 484.4,256.7 472.1,257.0 459.2,257.6 445.9,262.8 436.6,264.6 424.9,267.1 417.1,271.7 409.8,271.1 401.9,276.6 388.6,295.2 380.9,303.1 340.3,304.4" fill="none" stroke="#a0d49a" stroke-width="0.7"/>
</g>
<polyline points="340.2,302.9 380.5,301.1 387.0,294.0 400.0,275.0 409.0,268.7 416.5,269.3 424.0,264.8 436.0,262.2 445.0,260.0 458.5,254.7 472.0,254.0 484.0,253.7 493.0,251.0 501.4,241.5 509.4,244.2 518.9,255.9 528.3,260.7 537.7,264.2 550.7,270.6 561.3,276.0 573.1,281.9 584.9,284.7 594.3,283.8" fill="none" stroke="#45a347" stroke-width="1.35" stroke-linejoin="round" stroke-linecap="round" />
<polyline points="340.2,299.3 374.2,298.9 385.0,292.0 400.0,275.0 408.2,265.2 416.5,264.8 424.0,265.7 437.5,264.8 457.0,264.2 467.5,264.8 484.0,265.2 491.5,263.3 500.0,266.0 509.4,267.7 518.9,268.9 527.1,267.3 537.7,268.9 550.7,271.3 570.8,275.3 594.3,281.9 603.8,284.7 612.0,289.0 622.0,289.0" fill="none" stroke="#cc2e2e" stroke-width="1.35" stroke-linejoin="round" stroke-linecap="round" />
<g opacity="0.9">
<polyline points="340.2,300.0 373.0,300.0 377.2,297.9 382.4,289.6 396.8,240.0 408.2,205.1 424.7,188.4 442.4,186.5 450.7,194.8 458.9,210.1 467.2,227.8 476.6,232.5 484.9,226.6 490.8,227.1 501.4,232.5 509.6,243.1 518.9,251.2 526.0,247.7 535.4,251.2 550.7,271.3 561.3,279.5 569.6,284.2 579.0,292.5 587.3,297.2 594.3,297.2" fill="none" stroke="#3a72ad" stroke-width="1.35" stroke-linejoin="round" stroke-linecap="round" />
</g>
</g>
<rect x="46.0" y="12.2" width="280.3" height="135.4" fill="none" stroke="#888888" stroke-width="1.4"/>
<rect x="340.2" y="12.2" width="280.3" height="135.4" fill="none" stroke="#888888" stroke-width="1.4"/>
<rect x="46.0" y="170.0" width="280.3" height="135.4" fill="none" stroke="#888888" stroke-width="1.4"/>
<rect x="340.2" y="170.0" width="280.3" height="135.4" fill="none" stroke="#888888" stroke-width="1.4"/>
<g stroke="#2a2a2a" stroke-width="1">
<line x1="50.2" y1="12.2" x2="50.2" y2="14.5"/>
<line x1="50.2" y1="147.6" x2="50.2" y2="145.3"/>
<line x1="58.7" y1="12.2" x2="58.7" y2="14.5"/>
<line x1="58.7" y1="147.6" x2="58.7" y2="145.3"/>
<line x1="67.2" y1="12.2" x2="67.2" y2="14.5"/>
<line x1="67.2" y1="147.6" x2="67.2" y2="145.3"/>
<line x1="75.7" y1="12.2" x2="75.7" y2="14.5"/>
<line x1="75.7" y1="147.6" x2="75.7" y2="145.3"/>
<line x1="84.2" y1="12.2" x2="84.2" y2="15.4"/>
<line x1="84.2" y1="147.6" x2="84.2" y2="144.4"/>
<line x1="92.7" y1="12.2" x2="92.7" y2="14.5"/>
<line x1="92.7" y1="147.6" x2="92.7" y2="145.3"/>
<line x1="101.2" y1="12.2" x2="101.2" y2="14.5"/>
<line x1="101.2" y1="147.6" x2="101.2" y2="145.3"/>
<line x1="109.7" y1="12.2" x2="109.7" y2="14.5"/>
<line x1="109.7" y1="147.6" x2="109.7" y2="145.3"/>
<line x1="118.2" y1="12.2" x2="118.2" y2="14.5"/>
<line x1="118.2" y1="147.6" x2="118.2" y2="145.3"/>
<line x1="126.7" y1="12.2" x2="126.7" y2="15.4"/>
<line x1="126.7" y1="147.6" x2="126.7" y2="144.4"/>
<line x1="135.2" y1="12.2" x2="135.2" y2="14.5"/>
<line x1="135.2" y1="147.6" x2="135.2" y2="145.3"/>
<line x1="143.7" y1="12.2" x2="143.7" y2="14.5"/>
<line x1="143.7" y1="147.6" x2="143.7" y2="145.3"/>
<line x1="152.2" y1="12.2" x2="152.2" y2="14.5"/>
<line x1="152.2" y1="147.6" x2="152.2" y2="145.3"/>
<line x1="160.7" y1="12.2" x2="160.7" y2="14.5"/>
<line x1="160.7" y1="147.6" x2="160.7" y2="145.3"/>
<line x1="169.2" y1="12.2" x2="169.2" y2="15.4"/>
<line x1="169.2" y1="147.6" x2="169.2" y2="144.4"/>
<line x1="177.7" y1="12.2" x2="177.7" y2="14.5"/>
<line x1="177.7" y1="147.6" x2="177.7" y2="145.3"/>
<line x1="186.2" y1="12.2" x2="186.2" y2="14.5"/>
<line x1="186.2" y1="147.6" x2="186.2" y2="145.3"/>
<line x1="194.6" y1="12.2" x2="194.6" y2="14.5"/>
<line x1="194.6" y1="147.6" x2="194.6" y2="145.3"/>
<line x1="203.1" y1="12.2" x2="203.1" y2="14.5"/>
<line x1="203.1" y1="147.6" x2="203.1" y2="145.3"/>
<line x1="211.6" y1="12.2" x2="211.6" y2="15.4"/>
<line x1="211.6" y1="147.6" x2="211.6" y2="144.4"/>
<line x1="220.1" y1="12.2" x2="220.1" y2="14.5"/>
<line x1="220.1" y1="147.6" x2="220.1" y2="145.3"/>
<line x1="228.6" y1="12.2" x2="228.6" y2="14.5"/>
<line x1="228.6" y1="147.6" x2="228.6" y2="145.3"/>
<line x1="237.1" y1="12.2" x2="237.1" y2="14.5"/>
<line x1="237.1" y1="147.6" x2="237.1" y2="145.3"/>
<line x1="245.6" y1="12.2" x2="245.6" y2="14.5"/>
<line x1="245.6" y1="147.6" x2="245.6" y2="145.3"/>
<line x1="254.1" y1="12.2" x2="254.1" y2="15.4"/>
<line x1="254.1" y1="147.6" x2="254.1" y2="144.4"/>
<line x1="262.6" y1="12.2" x2="262.6" y2="14.5"/>
<line x1="262.6" y1="147.6" x2="262.6" y2="145.3"/>
<line x1="271.1" y1="12.2" x2="271.1" y2="14.5"/>
<line x1="271.1" y1="147.6" x2="271.1" y2="145.3"/>
<line x1="279.6" y1="12.2" x2="279.6" y2="14.5"/>
<line x1="279.6" y1="147.6" x2="279.6" y2="145.3"/>
<line x1="288.1" y1="12.2" x2="288.1" y2="14.5"/>
<line x1="288.1" y1="147.6" x2="288.1" y2="145.3"/>
<line x1="296.6" y1="12.2" x2="296.6" y2="15.4"/>
<line x1="296.6" y1="147.6" x2="296.6" y2="144.4"/>
<line x1="305.1" y1="12.2" x2="305.1" y2="14.5"/>
<line x1="305.1" y1="147.6" x2="305.1" y2="145.3"/>
<line x1="313.6" y1="12.2" x2="313.6" y2="14.5"/>
<line x1="313.6" y1="147.6" x2="313.6" y2="145.3"/>
<line x1="322.1" y1="12.2" x2="322.1" y2="14.5"/>
<line x1="322.1" y1="147.6" x2="322.1" y2="145.3"/>
<line x1="344.4" y1="12.2" x2="344.4" y2="14.5"/>
<line x1="344.4" y1="147.6" x2="344.4" y2="145.3"/>
<line x1="352.9" y1="12.2" x2="352.9" y2="14.5"/>
<line x1="352.9" y1="147.6" x2="352.9" y2="145.3"/>
<line x1="361.4" y1="12.2" x2="361.4" y2="14.5"/>
<line x1="361.4" y1="147.6" x2="361.4" y2="145.3"/>
<line x1="369.9" y1="12.2" x2="369.9" y2="14.5"/>
<line x1="369.9" y1="147.6" x2="369.9" y2="145.3"/>
<line x1="378.4" y1="12.2" x2="378.4" y2="15.4"/>
<line x1="378.4" y1="147.6" x2="378.4" y2="144.4"/>
<line x1="386.9" y1="12.2" x2="386.9" y2="14.5"/>
<line x1="386.9" y1="147.6" x2="386.9" y2="145.3"/>
<line x1="395.4" y1="12.2" x2="395.4" y2="14.5"/>
<line x1="395.4" y1="147.6" x2="395.4" y2="145.3"/>
<line x1="403.9" y1="12.2" x2="403.9" y2="14.5"/>
<line x1="403.9" y1="147.6" x2="403.9" y2="145.3"/>
<line x1="412.4" y1="12.2" x2="412.4" y2="14.5"/>
<line x1="412.4" y1="147.6" x2="412.4" y2="145.3"/>
<line x1="420.9" y1="12.2" x2="420.9" y2="15.4"/>
<line x1="420.9" y1="147.6" x2="420.9" y2="144.4"/>
<line x1="429.4" y1="12.2" x2="429.4" y2="14.5"/>
<line x1="429.4" y1="147.6" x2="429.4" y2="145.3"/>
<line x1="437.9" y1="12.2" x2="437.9" y2="14.5"/>
<line x1="437.9" y1="147.6" x2="437.9" y2="145.3"/>
<line x1="446.4" y1="12.2" x2="446.4" y2="14.5"/>
<line x1="446.4" y1="147.6" x2="446.4" y2="145.3"/>
<line x1="454.9" y1="12.2" x2="454.9" y2="14.5"/>
<line x1="454.9" y1="147.6" x2="454.9" y2="145.3"/>
<line x1="463.4" y1="12.2" x2="463.4" y2="15.4"/>
<line x1="463.4" y1="147.6" x2="463.4" y2="144.4"/>
<line x1="471.9" y1="12.2" x2="471.9" y2="14.5"/>
<line x1="471.9" y1="147.6" x2="471.9" y2="145.3"/>
<line x1="480.4" y1="12.2" x2="480.4" y2="14.5"/>
<line x1="480.4" y1="147.6" x2="480.4" y2="145.3"/>
<line x1="488.8" y1="12.2" x2="488.8" y2="14.5"/>
<line x1="488.8" y1="147.6" x2="488.8" y2="145.3"/>
<line x1="497.3" y1="12.2" x2="497.3" y2="14.5"/>
<line x1="497.3" y1="147.6" x2="497.3" y2="145.3"/>
<line x1="505.8" y1="12.2" x2="505.8" y2="15.4"/>
<line x1="505.8" y1="147.6" x2="505.8" y2="144.4"/>
<line x1="514.3" y1="12.2" x2="514.3" y2="14.5"/>
<line x1="514.3" y1="147.6" x2="514.3" y2="145.3"/>
<line x1="522.8" y1="12.2" x2="522.8" y2="14.5"/>
<line x1="522.8" y1="147.6" x2="522.8" y2="145.3"/>
<line x1="531.3" y1="12.2" x2="531.3" y2="14.5"/>
<line x1="531.3" y1="147.6" x2="531.3" y2="145.3"/>
<line x1="539.8" y1="12.2" x2="539.8" y2="14.5"/>
<line x1="539.8" y1="147.6" x2="539.8" y2="145.3"/>
<line x1="548.3" y1="12.2" x2="548.3" y2="15.4"/>
<line x1="548.3" y1="147.6" x2="548.3" y2="144.4"/>
<line x1="556.8" y1="12.2" x2="556.8" y2="14.5"/>
<line x1="556.8" y1="147.6" x2="556.8" y2="145.3"/>
<line x1="565.3" y1="12.2" x2="565.3" y2="14.5"/>
<line x1="565.3" y1="147.6" x2="565.3" y2="145.3"/>
<line x1="573.8" y1="12.2" x2="573.8" y2="14.5"/>
<line x1="573.8" y1="147.6" x2="573.8" y2="145.3"/>
<line x1="582.3" y1="12.2" x2="582.3" y2="14.5"/>
<line x1="582.3" y1="147.6" x2="582.3" y2="145.3"/>
<line x1="590.8" y1="12.2" x2="590.8" y2="15.4"/>
<line x1="590.8" y1="147.6" x2="590.8" y2="144.4"/>
<line x1="599.3" y1="12.2" x2="599.3" y2="14.5"/>
<line x1="599.3" y1="147.6" x2="599.3" y2="145.3"/>
<line x1="607.8" y1="12.2" x2="607.8" y2="14.5"/>
<line x1="607.8" y1="147.6" x2="607.8" y2="145.3"/>
<line x1="616.3" y1="12.2" x2="616.3" y2="14.5"/>
<line x1="616.3" y1="147.6" x2="616.3" y2="145.3"/>
<line x1="50.2" y1="170.0" x2="50.2" y2="172.3"/>
<line x1="50.2" y1="305.4" x2="50.2" y2="303.1"/>
<line x1="58.7" y1="170.0" x2="58.7" y2="172.3"/>
<line x1="58.7" y1="305.4" x2="58.7" y2="303.1"/>
<line x1="67.2" y1="170.0" x2="67.2" y2="172.3"/>
<line x1="67.2" y1="305.4" x2="67.2" y2="303.1"/>
<line x1="75.7" y1="170.0" x2="75.7" y2="172.3"/>
<line x1="75.7" y1="305.4" x2="75.7" y2="303.1"/>
<line x1="84.2" y1="170.0" x2="84.2" y2="173.2"/>
<line x1="84.2" y1="305.4" x2="84.2" y2="302.2"/>
<line x1="92.7" y1="170.0" x2="92.7" y2="172.3"/>
<line x1="92.7" y1="305.4" x2="92.7" y2="303.1"/>
<line x1="101.2" y1="170.0" x2="101.2" y2="172.3"/>
<line x1="101.2" y1="305.4" x2="101.2" y2="303.1"/>
<line x1="109.7" y1="170.0" x2="109.7" y2="172.3"/>
<line x1="109.7" y1="305.4" x2="109.7" y2="303.1"/>
<line x1="118.2" y1="170.0" x2="118.2" y2="172.3"/>
<line x1="118.2" y1="305.4" x2="118.2" y2="303.1"/>
<line x1="126.7" y1="170.0" x2="126.7" y2="173.2"/>
<line x1="126.7" y1="305.4" x2="126.7" y2="302.2"/>
<line x1="135.2" y1="170.0" x2="135.2" y2="172.3"/>
<line x1="135.2" y1="305.4" x2="135.2" y2="303.1"/>
<line x1="143.7" y1="170.0" x2="143.7" y2="172.3"/>
<line x1="143.7" y1="305.4" x2="143.7" y2="303.1"/>
<line x1="152.2" y1="170.0" x2="152.2" y2="172.3"/>
<line x1="152.2" y1="305.4" x2="152.2" y2="303.1"/>
<line x1="160.7" y1="170.0" x2="160.7" y2="172.3"/>
<line x1="160.7" y1="305.4" x2="160.7" y2="303.1"/>
<line x1="169.2" y1="170.0" x2="169.2" y2="173.2"/>
<line x1="169.2" y1="305.4" x2="169.2" y2="302.2"/>
<line x1="177.7" y1="170.0" x2="177.7" y2="172.3"/>
<line x1="177.7" y1="305.4" x2="177.7" y2="303.1"/>
<line x1="186.2" y1="170.0" x2="186.2" y2="172.3"/>
<line x1="186.2" y1="305.4" x2="186.2" y2="303.1"/>
<line x1="194.6" y1="170.0" x2="194.6" y2="172.3"/>
<line x1="194.6" y1="305.4" x2="194.6" y2="303.1"/>
<line x1="203.1" y1="170.0" x2="203.1" y2="172.3"/>
<line x1="203.1" y1="305.4" x2="203.1" y2="303.1"/>
<line x1="211.6" y1="170.0" x2="211.6" y2="173.2"/>
<line x1="211.6" y1="305.4" x2="211.6" y2="302.2"/>
<line x1="220.1" y1="170.0" x2="220.1" y2="172.3"/>
<line x1="220.1" y1="305.4" x2="220.1" y2="303.1"/>
<line x1="228.6" y1="170.0" x2="228.6" y2="172.3"/>
<line x1="228.6" y1="305.4" x2="228.6" y2="303.1"/>
<line x1="237.1" y1="170.0" x2="237.1" y2="172.3"/>
<line x1="237.1" y1="305.4" x2="237.1" y2="303.1"/>
<line x1="245.6" y1="170.0" x2="245.6" y2="172.3"/>
<line x1="245.6" y1="305.4" x2="245.6" y2="303.1"/>
<line x1="254.1" y1="170.0" x2="254.1" y2="173.2"/>
<line x1="254.1" y1="305.4" x2="254.1" y2="302.2"/>
<line x1="262.6" y1="170.0" x2="262.6" y2="172.3"/>
<line x1="262.6" y1="305.4" x2="262.6" y2="303.1"/>
<line x1="271.1" y1="170.0" x2="271.1" y2="172.3"/>
<line x1="271.1" y1="305.4" x2="271.1" y2="303.1"/>
<line x1="279.6" y1="170.0" x2="279.6" y2="172.3"/>
<line x1="279.6" y1="305.4" x2="279.6" y2="303.1"/>
<line x1="288.1" y1="170.0" x2="288.1" y2="172.3"/>
<line x1="288.1" y1="305.4" x2="288.1" y2="303.1"/>
<line x1="296.6" y1="170.0" x2="296.6" y2="173.2"/>
<line x1="296.6" y1="305.4" x2="296.6" y2="302.2"/>
<line x1="305.1" y1="170.0" x2="305.1" y2="172.3"/>
<line x1="305.1" y1="305.4" x2="305.1" y2="303.1"/>
<line x1="313.6" y1="170.0" x2="313.6" y2="172.3"/>
<line x1="313.6" y1="305.4" x2="313.6" y2="303.1"/>
<line x1="322.1" y1="170.0" x2="322.1" y2="172.3"/>
<line x1="322.1" y1="305.4" x2="322.1" y2="303.1"/>
<line x1="344.4" y1="170.0" x2="344.4" y2="172.3"/>
<line x1="344.4" y1="305.4" x2="344.4" y2="303.1"/>
<line x1="352.9" y1="170.0" x2="352.9" y2="172.3"/>
<line x1="352.9" y1="305.4" x2="352.9" y2="303.1"/>
<line x1="361.4" y1="170.0" x2="361.4" y2="172.3"/>
<line x1="361.4" y1="305.4" x2="361.4" y2="303.1"/>
<line x1="369.9" y1="170.0" x2="369.9" y2="172.3"/>
<line x1="369.9" y1="305.4" x2="369.9" y2="303.1"/>
<line x1="378.4" y1="170.0" x2="378.4" y2="173.2"/>
<line x1="378.4" y1="305.4" x2="378.4" y2="302.2"/>
<line x1="386.9" y1="170.0" x2="386.9" y2="172.3"/>
<line x1="386.9" y1="305.4" x2="386.9" y2="303.1"/>
<line x1="395.4" y1="170.0" x2="395.4" y2="172.3"/>
<line x1="395.4" y1="305.4" x2="395.4" y2="303.1"/>
<line x1="403.9" y1="170.0" x2="403.9" y2="172.3"/>
<line x1="403.9" y1="305.4" x2="403.9" y2="303.1"/>
<line x1="412.4" y1="170.0" x2="412.4" y2="172.3"/>
<line x1="412.4" y1="305.4" x2="412.4" y2="303.1"/>
<line x1="420.9" y1="170.0" x2="420.9" y2="173.2"/>
<line x1="420.9" y1="305.4" x2="420.9" y2="302.2"/>
<line x1="429.4" y1="170.0" x2="429.4" y2="172.3"/>
<line x1="429.4" y1="305.4" x2="429.4" y2="303.1"/>
<line x1="437.9" y1="170.0" x2="437.9" y2="172.3"/>
<line x1="437.9" y1="305.4" x2="437.9" y2="303.1"/>
<line x1="446.4" y1="170.0" x2="446.4" y2="172.3"/>
<line x1="446.4" y1="305.4" x2="446.4" y2="303.1"/>
<line x1="454.9" y1="170.0" x2="454.9" y2="172.3"/>
<line x1="454.9" y1="305.4" x2="454.9" y2="303.1"/>
<line x1="463.4" y1="170.0" x2="463.4" y2="173.2"/>
<line x1="463.4" y1="305.4" x2="463.4" y2="302.2"/>
<line x1="471.9" y1="170.0" x2="471.9" y2="172.3"/>
<line x1="471.9" y1="305.4" x2="471.9" y2="303.1"/>
<line x1="480.4" y1="170.0" x2="480.4" y2="172.3"/>
<line x1="480.4" y1="305.4" x2="480.4" y2="303.1"/>
<line x1="488.8" y1="170.0" x2="488.8" y2="172.3"/>
<line x1="488.8" y1="305.4" x2="488.8" y2="303.1"/>
<line x1="497.3" y1="170.0" x2="497.3" y2="172.3"/>
<line x1="497.3" y1="305.4" x2="497.3" y2="303.1"/>
<line x1="505.8" y1="170.0" x2="505.8" y2="173.2"/>
<line x1="505.8" y1="305.4" x2="505.8" y2="302.2"/>
<line x1="514.3" y1="170.0" x2="514.3" y2="172.3"/>
<line x1="514.3" y1="305.4" x2="514.3" y2="303.1"/>
<line x1="522.8" y1="170.0" x2="522.8" y2="172.3"/>
<line x1="522.8" y1="305.4" x2="522.8" y2="303.1"/>
<line x1="531.3" y1="170.0" x2="531.3" y2="172.3"/>
<line x1="531.3" y1="305.4" x2="531.3" y2="303.1"/>
<line x1="539.8" y1="170.0" x2="539.8" y2="172.3"/>
<line x1="539.8" y1="305.4" x2="539.8" y2="303.1"/>
<line x1="548.3" y1="170.0" x2="548.3" y2="173.2"/>
<line x1="548.3" y1="305.4" x2="548.3" y2="302.2"/>
<line x1="556.8" y1="170.0" x2="556.8" y2="172.3"/>
<line x1="556.8" y1="305.4" x2="556.8" y2="303.1"/>
<line x1="565.3" y1="170.0" x2="565.3" y2="172.3"/>
<line x1="565.3" y1="305.4" x2="565.3" y2="303.1"/>
<line x1="573.8" y1="170.0" x2="573.8" y2="172.3"/>
<line x1="573.8" y1="305.4" x2="573.8" y2="303.1"/>
<line x1="582.3" y1="170.0" x2="582.3" y2="172.3"/>
<line x1="582.3" y1="305.4" x2="582.3" y2="303.1"/>
<line x1="590.8" y1="170.0" x2="590.8" y2="173.2"/>
<line x1="590.8" y1="305.4" x2="590.8" y2="302.2"/>
<line x1="599.3" y1="170.0" x2="599.3" y2="172.3"/>
<line x1="599.3" y1="305.4" x2="599.3" y2="303.1"/>
<line x1="607.8" y1="170.0" x2="607.8" y2="172.3"/>
<line x1="607.8" y1="305.4" x2="607.8" y2="303.1"/>
<line x1="616.3" y1="170.0" x2="616.3" y2="172.3"/>
<line x1="616.3" y1="305.4" x2="616.3" y2="303.1"/>
<line x1="46.0" y1="147.5" x2="49.2" y2="147.5"/>
<line x1="326.3" y1="147.5" x2="323.1" y2="147.5"/>
<line x1="46.0" y1="105.2" x2="49.2" y2="105.2"/>
<line x1="326.3" y1="105.2" x2="323.1" y2="105.2"/>
<line x1="46.0" y1="63.0" x2="49.2" y2="63.0"/>
<line x1="326.3" y1="63.0" x2="323.1" y2="63.0"/>
<line x1="46.0" y1="20.7" x2="49.2" y2="20.7"/>
<line x1="326.3" y1="20.7" x2="323.1" y2="20.7"/>
<line x1="46.0" y1="139.0" x2="48.3" y2="139.0"/>
<line x1="326.3" y1="139.0" x2="324.0" y2="139.0"/>
<line x1="46.0" y1="130.6" x2="48.3" y2="130.6"/>
<line x1="326.3" y1="130.6" x2="324.0" y2="130.6"/>
<line x1="46.0" y1="122.1" x2="48.3" y2="122.1"/>
<line x1="326.3" y1="122.1" x2="324.0" y2="122.1"/>
<line x1="46.0" y1="113.7" x2="48.3" y2="113.7"/>
<line x1="326.3" y1="113.7" x2="324.0" y2="113.7"/>
<line x1="46.0" y1="96.8" x2="48.3" y2="96.8"/>
<line x1="326.3" y1="96.8" x2="324.0" y2="96.8"/>
<line x1="46.0" y1="88.3" x2="48.3" y2="88.3"/>
<line x1="326.3" y1="88.3" x2="324.0" y2="88.3"/>
<line x1="46.0" y1="79.9" x2="48.3" y2="79.9"/>
<line x1="326.3" y1="79.9" x2="324.0" y2="79.9"/>
<line x1="46.0" y1="71.4" x2="48.3" y2="71.4"/>
<line x1="326.3" y1="71.4" x2="324.0" y2="71.4"/>
<line x1="46.0" y1="54.5" x2="48.3" y2="54.5"/>
<line x1="326.3" y1="54.5" x2="324.0" y2="54.5"/>
<line x1="46.0" y1="46.1" x2="48.3" y2="46.1"/>
<line x1="326.3" y1="46.1" x2="324.0" y2="46.1"/>
<line x1="46.0" y1="37.6" x2="48.3" y2="37.6"/>
<line x1="326.3" y1="37.6" x2="324.0" y2="37.6"/>
<line x1="46.0" y1="29.2" x2="48.3" y2="29.2"/>
<line x1="326.3" y1="29.2" x2="324.0" y2="29.2"/>
<line x1="340.2" y1="147.5" x2="343.4" y2="147.5"/>
<line x1="620.5" y1="147.5" x2="617.3" y2="147.5"/>
<line x1="340.2" y1="113.6" x2="343.4" y2="113.6"/>
<line x1="620.5" y1="113.6" x2="617.3" y2="113.6"/>
<line x1="340.2" y1="79.8" x2="343.4" y2="79.8"/>
<line x1="620.5" y1="79.8" x2="617.3" y2="79.8"/>
<line x1="340.2" y1="45.9" x2="343.4" y2="45.9"/>
<line x1="620.5" y1="45.9" x2="617.3" y2="45.9"/>
<line x1="340.2" y1="12.0" x2="343.4" y2="12.0"/>
<line x1="620.5" y1="12.0" x2="617.3" y2="12.0"/>
<line x1="340.2" y1="140.7" x2="342.5" y2="140.7"/>
<line x1="620.5" y1="140.7" x2="618.2" y2="140.7"/>
<line x1="340.2" y1="134.0" x2="342.5" y2="134.0"/>
<line x1="620.5" y1="134.0" x2="618.2" y2="134.0"/>
<line x1="340.2" y1="127.2" x2="342.5" y2="127.2"/>
<line x1="620.5" y1="127.2" x2="618.2" y2="127.2"/>
<line x1="340.2" y1="120.4" x2="342.5" y2="120.4"/>
<line x1="620.5" y1="120.4" x2="618.2" y2="120.4"/>
<line x1="340.2" y1="106.9" x2="342.5" y2="106.9"/>
<line x1="620.5" y1="106.9" x2="618.2" y2="106.9"/>
<line x1="340.2" y1="100.1" x2="342.5" y2="100.1"/>
<line x1="620.5" y1="100.1" x2="618.2" y2="100.1"/>
<line x1="340.2" y1="93.3" x2="342.5" y2="93.3"/>
<line x1="620.5" y1="93.3" x2="618.2" y2="93.3"/>
<line x1="340.2" y1="86.5" x2="342.5" y2="86.5"/>
<line x1="620.5" y1="86.5" x2="618.2" y2="86.5"/>
<line x1="340.2" y1="73.0" x2="342.5" y2="73.0"/>
<line x1="620.5" y1="73.0" x2="618.2" y2="73.0"/>
<line x1="340.2" y1="66.2" x2="342.5" y2="66.2"/>
<line x1="620.5" y1="66.2" x2="618.2" y2="66.2"/>
<line x1="340.2" y1="59.4" x2="342.5" y2="59.4"/>
<line x1="620.5" y1="59.4" x2="618.2" y2="59.4"/>
<line x1="340.2" y1="52.7" x2="342.5" y2="52.7"/>
<line x1="620.5" y1="52.7" x2="618.2" y2="52.7"/>
<line x1="340.2" y1="39.1" x2="342.5" y2="39.1"/>
<line x1="620.5" y1="39.1" x2="618.2" y2="39.1"/>
<line x1="340.2" y1="32.3" x2="342.5" y2="32.3"/>
<line x1="620.5" y1="32.3" x2="618.2" y2="32.3"/>
<line x1="340.2" y1="25.6" x2="342.5" y2="25.6"/>
<line x1="620.5" y1="25.6" x2="618.2" y2="25.6"/>
<line x1="340.2" y1="18.8" x2="342.5" y2="18.8"/>
<line x1="620.5" y1="18.8" x2="618.2" y2="18.8"/>
<line x1="46.0" y1="305.4" x2="49.2" y2="305.4"/>
<line x1="326.3" y1="305.4" x2="323.1" y2="305.4"/>
<line x1="46.0" y1="282.8" x2="49.2" y2="282.8"/>
<line x1="326.3" y1="282.8" x2="323.1" y2="282.8"/>
<line x1="46.0" y1="260.3" x2="49.2" y2="260.3"/>
<line x1="326.3" y1="260.3" x2="323.1" y2="260.3"/>
<line x1="46.0" y1="237.7" x2="49.2" y2="237.7"/>
<line x1="326.3" y1="237.7" x2="323.1" y2="237.7"/>
<line x1="46.0" y1="215.1" x2="49.2" y2="215.1"/>
<line x1="326.3" y1="215.1" x2="323.1" y2="215.1"/>
<line x1="46.0" y1="192.6" x2="49.2" y2="192.6"/>
<line x1="326.3" y1="192.6" x2="323.1" y2="192.6"/>
<line x1="46.0" y1="170.0" x2="49.2" y2="170.0"/>
<line x1="326.3" y1="170.0" x2="323.1" y2="170.0"/>
<line x1="46.0" y1="299.8" x2="48.3" y2="299.8"/>
<line x1="326.3" y1="299.8" x2="324.0" y2="299.8"/>
<line x1="46.0" y1="294.1" x2="48.3" y2="294.1"/>
<line x1="326.3" y1="294.1" x2="324.0" y2="294.1"/>
<line x1="46.0" y1="288.5" x2="48.3" y2="288.5"/>
<line x1="326.3" y1="288.5" x2="324.0" y2="288.5"/>
<line x1="46.0" y1="277.2" x2="48.3" y2="277.2"/>
<line x1="326.3" y1="277.2" x2="324.0" y2="277.2"/>
<line x1="46.0" y1="271.5" x2="48.3" y2="271.5"/>
<line x1="326.3" y1="271.5" x2="324.0" y2="271.5"/>
<line x1="46.0" y1="265.9" x2="48.3" y2="265.9"/>
<line x1="326.3" y1="265.9" x2="324.0" y2="265.9"/>
<line x1="46.0" y1="254.6" x2="48.3" y2="254.6"/>
<line x1="326.3" y1="254.6" x2="324.0" y2="254.6"/>
<line x1="46.0" y1="249.0" x2="48.3" y2="249.0"/>
<line x1="326.3" y1="249.0" x2="324.0" y2="249.0"/>
<line x1="46.0" y1="243.3" x2="48.3" y2="243.3"/>
<line x1="326.3" y1="243.3" x2="324.0" y2="243.3"/>
<line x1="46.0" y1="232.1" x2="48.3" y2="232.1"/>
<line x1="326.3" y1="232.1" x2="324.0" y2="232.1"/>
<line x1="46.0" y1="226.4" x2="48.3" y2="226.4"/>
<line x1="326.3" y1="226.4" x2="324.0" y2="226.4"/>
<line x1="46.0" y1="220.8" x2="48.3" y2="220.8"/>
<line x1="326.3" y1="220.8" x2="324.0" y2="220.8"/>
<line x1="46.0" y1="209.5" x2="48.3" y2="209.5"/>
<line x1="326.3" y1="209.5" x2="324.0" y2="209.5"/>
<line x1="46.0" y1="203.8" x2="48.3" y2="203.8"/>
<line x1="326.3" y1="203.8" x2="324.0" y2="203.8"/>
<line x1="46.0" y1="198.2" x2="48.3" y2="198.2"/>
<line x1="326.3" y1="198.2" x2="324.0" y2="198.2"/>
<line x1="46.0" y1="186.9" x2="48.3" y2="186.9"/>
<line x1="326.3" y1="186.9" x2="324.0" y2="186.9"/>
<line x1="46.0" y1="181.3" x2="48.3" y2="181.3"/>
<line x1="326.3" y1="181.3" x2="324.0" y2="181.3"/>
<line x1="46.0" y1="175.6" x2="48.3" y2="175.6"/>
<line x1="326.3" y1="175.6" x2="324.0" y2="175.6"/>
<line x1="340.2" y1="300.2" x2="343.4" y2="300.2"/>
<line x1="620.5" y1="300.2" x2="617.3" y2="300.2"/>
<line x1="340.2" y1="267.6" x2="343.4" y2="267.6"/>
<line x1="620.5" y1="267.6" x2="617.3" y2="267.6"/>
<line x1="340.2" y1="235.0" x2="343.4" y2="235.0"/>
<line x1="620.5" y1="235.0" x2="617.3" y2="235.0"/>
<line x1="340.2" y1="202.4" x2="343.4" y2="202.4"/>
<line x1="620.5" y1="202.4" x2="617.3" y2="202.4"/>
<line x1="340.2" y1="169.8" x2="343.4" y2="169.8"/>
<line x1="620.5" y1="169.8" x2="617.3" y2="169.8"/>
</g>
<g fill="#121212">
<text x="47.3" y="9.7" font-size="13.00" text-anchor="start" font-weight="bold" >A</text>
<text x="340.4" y="9.7" font-size="13.00" text-anchor="start" font-weight="bold" >B</text>
<text x="47.3" y="167.5" font-size="13.00" text-anchor="start" font-weight="bold" >C</text>
<text x="340.4" y="167.5" font-size="13.00" text-anchor="start" font-weight="bold" >D</text>
<text x="41.3" y="151.9" font-size="10.70" text-anchor="end" font-weight="normal" >0</text>
<text x="41.3" y="109.6" font-size="10.70" text-anchor="end" font-weight="normal" >500</text>
<text x="41.3" y="67.4" font-size="10.70" text-anchor="end" font-weight="normal" >1000</text>
<text x="41.3" y="25.1" font-size="10.70" text-anchor="end" font-weight="normal" >1500</text>
<text x="41.3" y="310.0" font-size="10.70" text-anchor="end" font-weight="normal" >-40</text>
<text x="41.3" y="287.4" font-size="10.70" text-anchor="end" font-weight="normal" >-20</text>
<text x="41.3" y="264.9" font-size="10.70" text-anchor="end" font-weight="normal" >0</text>
<text x="41.3" y="242.3" font-size="10.70" text-anchor="end" font-weight="normal" >20</text>
<text x="41.3" y="219.7" font-size="10.70" text-anchor="end" font-weight="normal" >40</text>
<text x="41.3" y="197.2" font-size="10.70" text-anchor="end" font-weight="normal" >60</text>
<text x="41.3" y="174.6" font-size="10.70" text-anchor="end" font-weight="normal" >80</text>
<text x="624.8" y="152.8" font-size="10.70" text-anchor="start" font-weight="normal" >0</text>
<text x="624.8" y="118.9" font-size="10.70" text-anchor="start" font-weight="normal" >1</text>
<text x="624.8" y="85.1" font-size="10.70" text-anchor="start" font-weight="normal" >2</text>
<text x="624.8" y="51.2" font-size="10.70" text-anchor="start" font-weight="normal" >3</text>
<text x="624.8" y="17.3" font-size="10.70" text-anchor="start" font-weight="normal" >4</text>
<text x="625.3" y="306.5" font-size="10.70">10<tspan font-size="8.6" dy="-5.4">0</tspan></text>
<text x="625.3" y="273.9" font-size="10.70">10<tspan font-size="8.6" dy="-5.4">5</tspan></text>
<text x="625.3" y="241.3" font-size="10.70">10<tspan font-size="8.6" dy="-5.4">10</tspan></text>
<text x="625.3" y="208.7" font-size="10.70">10<tspan font-size="8.6" dy="-5.4">15</tspan></text>
<text x="625.3" y="176.1" font-size="10.70">10<tspan font-size="8.6" dy="-5.4">20</tspan></text>
<text x="84.2" y="163.8" font-size="10.70" text-anchor="middle" font-weight="normal" >0</text>
<text x="126.7" y="163.8" font-size="10.70" text-anchor="middle" font-weight="normal" >1</text>
<text x="169.2" y="163.8" font-size="10.70" text-anchor="middle" font-weight="normal" >2</text>
<text x="211.6" y="163.8" font-size="10.70" text-anchor="middle" font-weight="normal" >3</text>
<text x="254.1" y="163.8" font-size="10.70" text-anchor="middle" font-weight="normal" >4</text>
<text x="296.6" y="163.8" font-size="10.70" text-anchor="middle" font-weight="normal" >5</text>
<text x="378.4" y="163.8" font-size="10.70" text-anchor="middle" font-weight="normal" >0</text>
<text x="420.9" y="163.8" font-size="10.70" text-anchor="middle" font-weight="normal" >1</text>
<text x="463.4" y="163.8" font-size="10.70" text-anchor="middle" font-weight="normal" >2</text>
<text x="505.8" y="163.8" font-size="10.70" text-anchor="middle" font-weight="normal" >3</text>
<text x="548.3" y="163.8" font-size="10.70" text-anchor="middle" font-weight="normal" >4</text>
<text x="590.8" y="163.8" font-size="10.70" text-anchor="middle" font-weight="normal" >5</text>
<text x="84.2" y="321.8" font-size="10.70" text-anchor="middle" font-weight="normal" >0</text>
<text x="126.7" y="321.8" font-size="10.70" text-anchor="middle" font-weight="normal" >1</text>
<text x="169.2" y="321.8" font-size="10.70" text-anchor="middle" font-weight="normal" >2</text>
<text x="211.6" y="321.8" font-size="10.70" text-anchor="middle" font-weight="normal" >3</text>
<text x="254.1" y="321.8" font-size="10.70" text-anchor="middle" font-weight="normal" >4</text>
<text x="296.6" y="321.8" font-size="10.70" text-anchor="middle" font-weight="normal" >5</text>
<text x="378.4" y="321.8" font-size="10.70" text-anchor="middle" font-weight="normal" >0</text>
<text x="420.9" y="321.8" font-size="10.70" text-anchor="middle" font-weight="normal" >1</text>
<text x="463.4" y="321.8" font-size="10.70" text-anchor="middle" font-weight="normal" >2</text>
<text x="505.8" y="321.8" font-size="10.70" text-anchor="middle" font-weight="normal" >3</text>
<text x="548.3" y="321.8" font-size="10.70" text-anchor="middle" font-weight="normal" >4</text>
<text x="590.8" y="321.8" font-size="10.70" text-anchor="middle" font-weight="normal" >5</text>
<text x="51.3" y="29.2" font-size="10.70" text-anchor="start" font-weight="normal" >water</text>
<text x="154.0" y="29.2" font-size="10.70" text-anchor="start" font-weight="normal" >wax ester</text>
<text x="295.0" y="30.2" font-size="10.70" text-anchor="start" font-weight="normal" >air</text>
<text x="344.8" y="41.3" font-size="10.70" text-anchor="start" font-weight="normal" >water (exp.)</text>
<text x="557.6" y="137.4" font-size="10.70" text-anchor="start" font-weight="normal" >LDPE (exp.)</text>
<text x="262.6" y="292.9" font-size="10.70" text-anchor="start" font-weight="normal" >air</text>
<text x="291.6" y="292.9" font-size="10.70" text-anchor="start" font-weight="normal" >water</text>
<path d="M278.4,290.2 H287.4 M284.9,288.1 L287.6,290.2 L284.9,292.3" fill="none" stroke="#121212" stroke-width="0.75"/>
<text x="255.0" y="336.5" font-size="10.70" text-anchor="start" font-weight="normal" >Distance from water surface (nm)</text>
<text transform="translate(11.8,117.4) rotate(-90)" font-size="10.70">Density (kg/m<tspan font-size="8.6" dy="-5.4">3</tspan><tspan dy="5.4">)</tspan></text>
<text transform="translate(11.6,312.6) rotate(-90)" font-size="10.70">Potential of mean force (kJ/mol)</text>
<text transform="translate(666.2,155.7) rotate(-90)" font-size="10.70">Diffusion coefficient (10<tspan font-size="8.6" dy="-5.4">-5</tspan><tspan dy="5.4"> cm</tspan><tspan font-size="8.6" dy="-5.4">2</tspan><tspan dy="5.4">/s)</tspan></text>
<text transform="translate(665.6,310.3) rotate(-90)" font-size="10.70">Permeation resistance (s/cm<tspan font-size="8.6" dy="-5.4">2</tspan><tspan dy="5.4">)</tspan></text>
</g>
</svg>
</body></html>
